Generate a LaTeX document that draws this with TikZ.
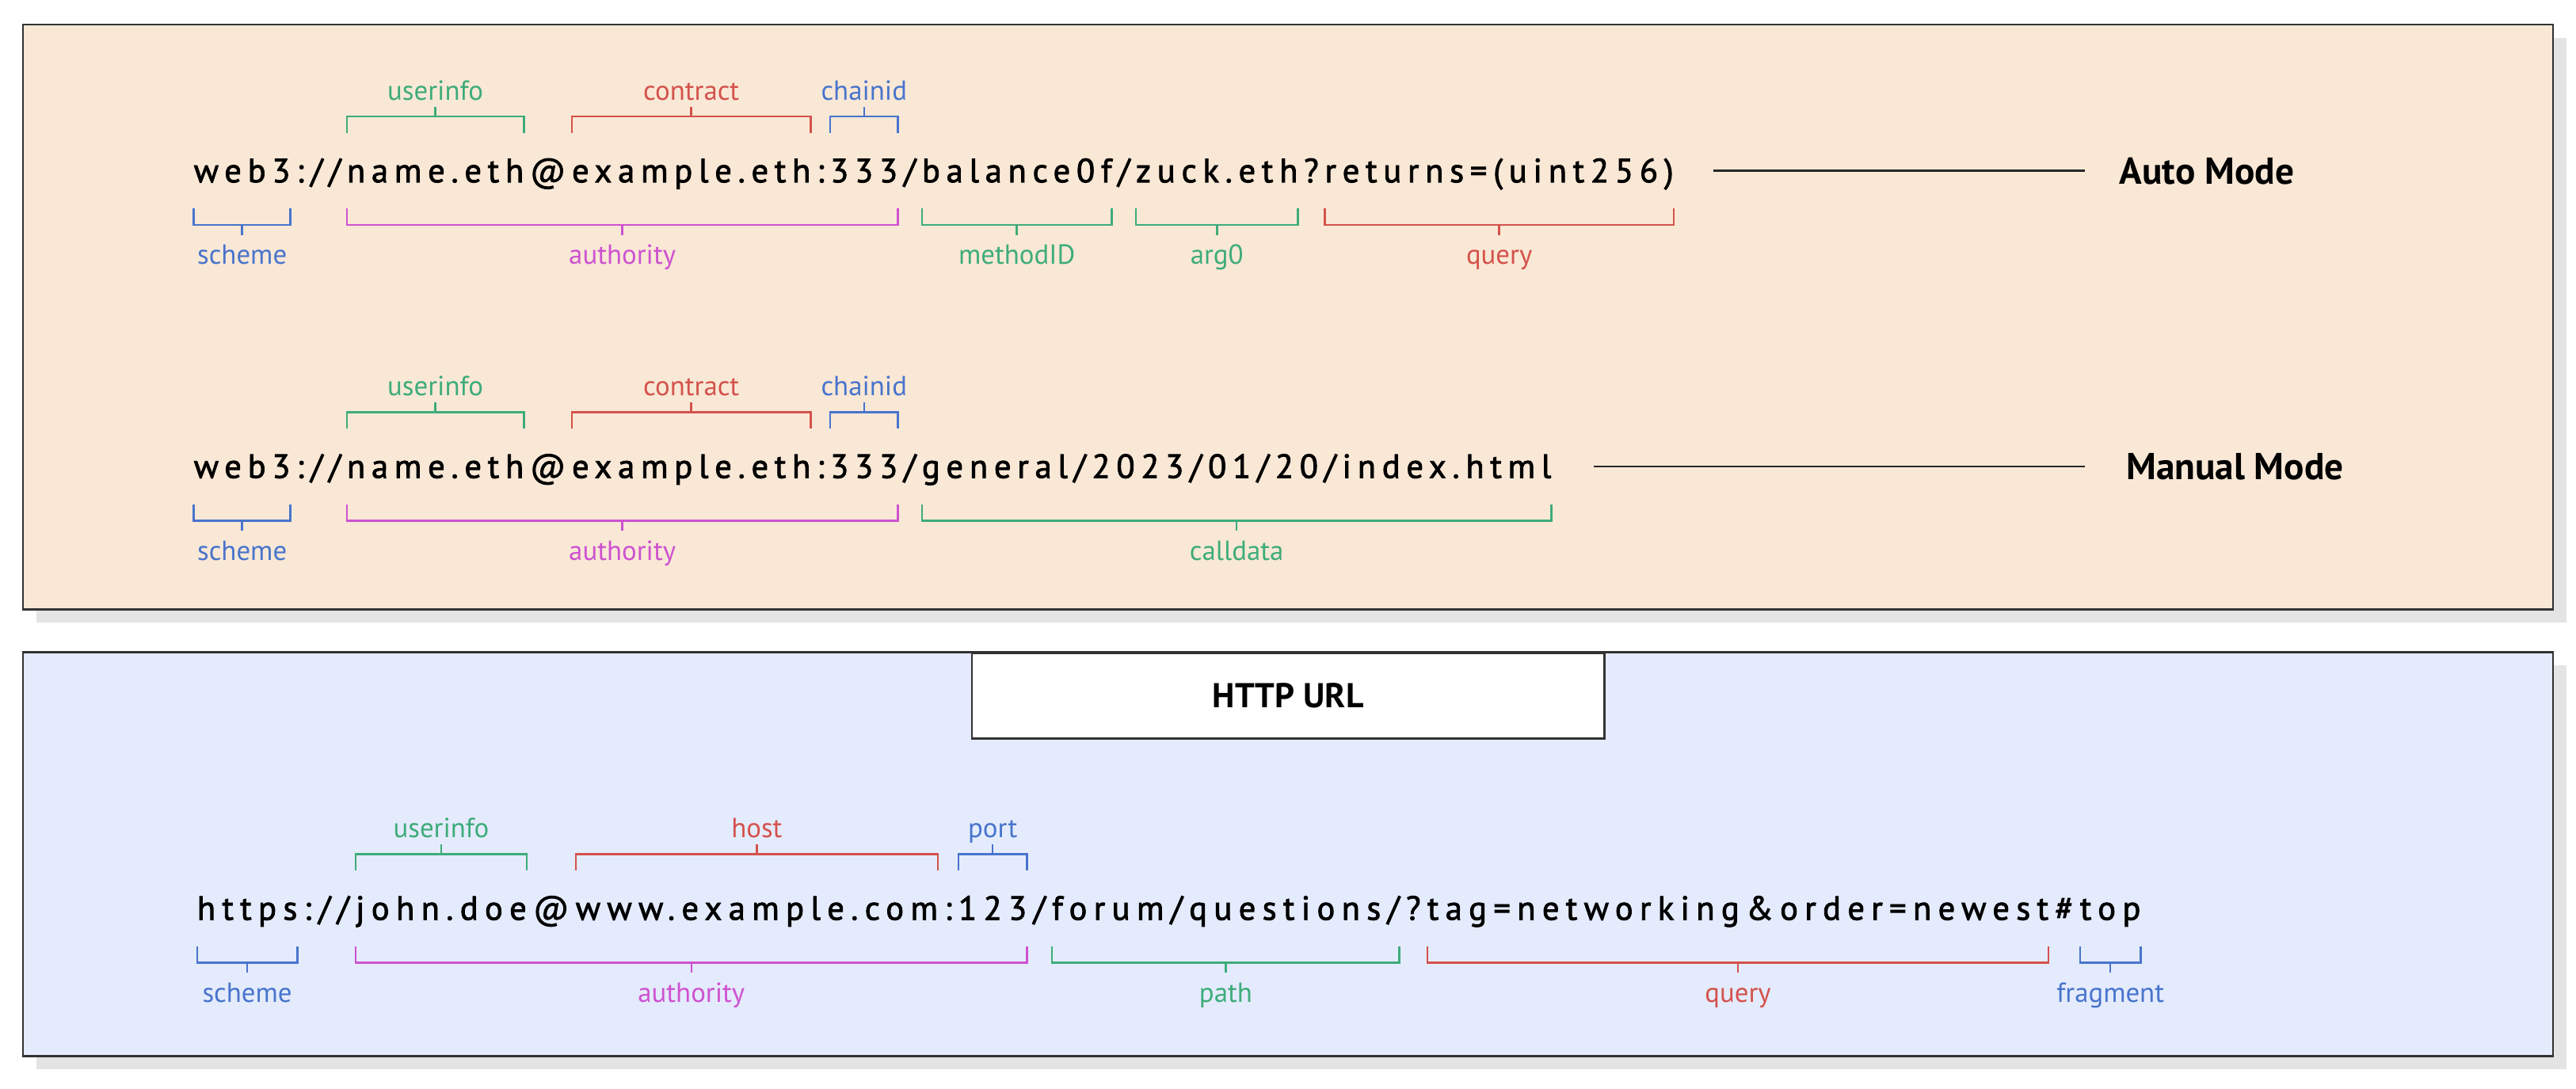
\documentclass[tikz,border=0pt]{standalone}
\usepackage{fontspec}
\setmainfont{PT Sans}
\newfontfamily\urlfont[LetterSpace=18.3, FakeBold=2]{PT Sans}
\newfontfamily\urlfontw[LetterSpace=19.7, FakeBold=2]{PT Sans}
\usetikzlibrary{calc}
\definecolor{cgreen}{RGB}{62,172,122}
\definecolor{cred}{RGB}{212,82,76}
\definecolor{cblue}{RGB}{72,116,204}
\definecolor{cmag}{RGB}{206,82,208}
\definecolor{peach}{RGB}{249,232,214}
\definecolor{lblue}{RGB}{228,235,252}
\definecolor{framec}{RGB}{50,50,50}
\definecolor{shadowc}{RGB}{228,228,228}
\def\trk{3.75pt}
\def\trkw{4.04pt}
\tikzset{
  seg/.style={inner sep=0pt, outer sep=0pt, anchor=base west, font=\urlfont\fontsize{20.5}{22}\selectfont},
  segw/.style={inner sep=0pt, outer sep=0pt, anchor=base west, font=\urlfontw\fontsize{20.5}{22}\selectfont},
  lbl/.style={inner sep=0pt, anchor=base, font=\fontsize{16.8}{18}\selectfont},
  brk/.style={line width=1.2pt},
  panel/.style={draw=framec, line width=1.2pt},
  modelbl/.style={inner sep=0pt, anchor=west, font=\bfseries\fontsize{22.8}{25}\selectfont},
  modeline/.style={line width=1.2pt, draw=black!85},
}
% bracket above: color, from node, to node, row prefix, label, name
\newcommand\brA[6]{%
  \draw[brk,#1] (#2.west |- #4legA) -- (#2.west |- #4hA) -- (#3.east |- #4hA) -- (#3.east |- #4legA);
  \path (#2.west |- #4hA) -- (#3.east |- #4hA) coordinate[pos=0.5] (#6m);
  \draw[brk,#1] (#6m) -- (#6m |- #4tA);
  \node[lbl,text=#1] (#6) at (#6m |- #4lA) {#5};
}
% bracket below
\newcommand\brB[6]{%
  \draw[brk,#1] (#2.west |- #4legB) -- (#2.west |- #4hB) -- (#3.east |- #4hB) -- (#3.east |- #4legB);
  \path (#2.west |- #4hB) -- (#3.east |- #4hB) coordinate[pos=0.5] (#6m);
  \draw[brk,#1] (#6m) -- (#6m |- #4tB);
  \node[lbl,text=#1] (#6) at (#6m |- #4lB) {#5};
}
% row levels: prefix, baseline
\newcommand\rowlevels[2]{%
  \coordinate (#1legA) at (0,#2-30);
  \coordinate (#1hA) at (0,#2-40);
  \coordinate (#1tA) at (0,#2-46);
  \coordinate (#1lA) at (0,#2-50);
  \coordinate (#1legB) at (0,#2+16);
  \coordinate (#1hB) at (0,#2+26);
  \coordinate (#1tB) at (0,#2+32);
  \coordinate (#1lB) at (0,#2+50);
}
\begin{document}
\begin{tikzpicture}[x=1pt,y=-1pt]
\useasboundingbox (0,0) rectangle (1568,662.5);
\fill[white] (0,0) rectangle (1568,662.5);
% panels
\fill[shadowc] (22,23) rectangle (1562,379);
\draw[panel,fill=peach] (14,15) rectangle (1554,371);
\fill[shadowc] (22,405) rectangle (1562,651);
\draw[panel,fill=lblue] (14,397) rectangle (1554,643);
\node[draw=framec, line width=1.2pt, fill=white, anchor=north west, minimum width=385pt, minimum height=52pt, inner sep=0pt, font=\bfseries\fontsize{21}{23}\selectfont] (http) at (591,397) {HTTP URL};

% ---------- Row 1: Auto mode ----------
\rowlevels{r1}{111}
\node[seg] (a1) at (118,111) {web3};
\node[seg] (a2) at ([xshift=\trk]a1.base east) {://};
\node[seg] (a3) at ([xshift=\trk]a2.base east) {name.eth};
\node[seg] (a4) at ([xshift=\trk]a3.base east) {@};
\node[seg] (a5) at ([xshift=\trk]a4.base east) {example.eth};
\node[seg] (a6) at ([xshift=\trk]a5.base east) {:};
\node[seg] (a7) at ([xshift=\trk]a6.base east) {333};
\node[seg] (a8) at ([xshift=\trk]a7.base east) {/};
\node[seg] (a9) at ([xshift=\trk]a8.base east) {balance0f};
\node[seg] (a10) at ([xshift=\trk]a9.base east) {/};
\node[seg] (a11) at ([xshift=\trk]a10.base east) {zuck.eth};
\node[seg] (a12) at ([xshift=\trk]a11.base east) {?};
\node[seg] (a13) at ([xshift=\trk]a12.base east) {returns=(uint256)};
\brA{cgreen}{a3}{a3}{r1}{userinfo}{a-user}
\brA{cred}{a5}{a5}{r1}{contract}{a-contract}
\brA{cblue}{a7}{a7}{r1}{chainid}{a-chain}
\brB{cblue}{a1}{a1}{r1}{scheme}{a-scheme}
\brB{cmag}{a3}{a7}{r1}{authority}{a-auth}
\brB{cgreen}{a9}{a9}{r1}{methodID}{a-method}
\brB{cgreen}{a11}{a11}{r1}{arg0}{a-arg}
\brB{cred}{a13}{a13}{r1}{query}{a-query}
\node[modelbl] (auto) at (1290,104) {Auto Mode};
\draw[modeline] ([xshift=24pt]a13.east |- auto.west) -- ([xshift=-21pt]auto.west);

% ---------- Row 2: Manual mode ----------
\rowlevels{r2}{291}
\node[seg] (b1) at (118,291) {web3};
\node[seg] (b2) at ([xshift=\trk]b1.base east) {://};
\node[seg] (b3) at ([xshift=\trk]b2.base east) {name.eth};
\node[seg] (b4) at ([xshift=\trk]b3.base east) {@};
\node[seg] (b5) at ([xshift=\trk]b4.base east) {example.eth};
\node[seg] (b6) at ([xshift=\trk]b5.base east) {:};
\node[seg] (b7) at ([xshift=\trk]b6.base east) {333};
\node[seg] (b8) at ([xshift=\trk]b7.base east) {/};
\node[seg] (b9) at ([xshift=\trk]b8.base east) {general/2023/01/20/index.html};
\brA{cgreen}{b3}{b3}{r2}{userinfo}{b-user}
\brA{cred}{b5}{b5}{r2}{contract}{b-contract}
\brA{cblue}{b7}{b7}{r2}{chainid}{b-chain}
\brB{cblue}{b1}{b1}{r2}{scheme}{b-scheme}
\brB{cmag}{b3}{b7}{r2}{authority}{b-auth}
\brB{cgreen}{b9}{b9}{r2}{calldata}{b-call}
\node[modelbl] (manual) at (1294,284) {Manual Mode};
\draw[modeline] ([xshift=26pt]b9.east |- manual.west) -- ([xshift=-25pt]manual.west);

% ---------- Row 3: HTTP URL ----------
\rowlevels{r3}{560}
\node[segw] (c1) at (120,560) {https};
\node[segw] (c2) at ([xshift=\trkw]c1.base east) {://};
\node[segw] (c3) at ([xshift=\trkw]c2.base east) {john.doe};
\node[segw] (c4) at ([xshift=\trkw]c3.base east) {@};
\node[segw] (c5) at ([xshift=\trkw]c4.base east) {www.example.com};
\node[segw] (c6) at ([xshift=\trkw]c5.base east) {:};
\node[segw] (c7) at ([xshift=\trkw]c6.base east) {123};
\node[segw] (c8) at ([xshift=\trkw]c7.base east) {/};
\node[segw] (c9) at ([xshift=\trkw]c8.base east) {forum/questions/};
\node[segw] (c10) at ([xshift=\trkw]c9.base east) {?};
\node[segw] (c11) at ([xshift=\trkw]c10.base east) {tag=networking\&order=newest};
\node[segw] (c12) at ([xshift=\trkw]c11.base east) {\#};
\node[segw] (c13) at ([xshift=\trkw]c12.base east) {top};
\brA{cgreen}{c3}{c3}{r3}{userinfo}{c-user}
\brA{cred}{c5}{c5}{r3}{host}{c-host}
\brA{cblue}{c7}{c7}{r3}{port}{c-port}
\brB{cblue}{c1}{c1}{r3}{scheme}{c-scheme}
\brB{cmag}{c3}{c7}{r3}{authority}{c-auth}
\brB{cgreen}{c9}{c9}{r3}{path}{c-path}
\brB{cred}{c11}{c11}{r3}{query}{c-query}
\brB{cblue}{c13}{c13}{r3}{fragment}{c-frag}
\end{tikzpicture}
\end{document}
